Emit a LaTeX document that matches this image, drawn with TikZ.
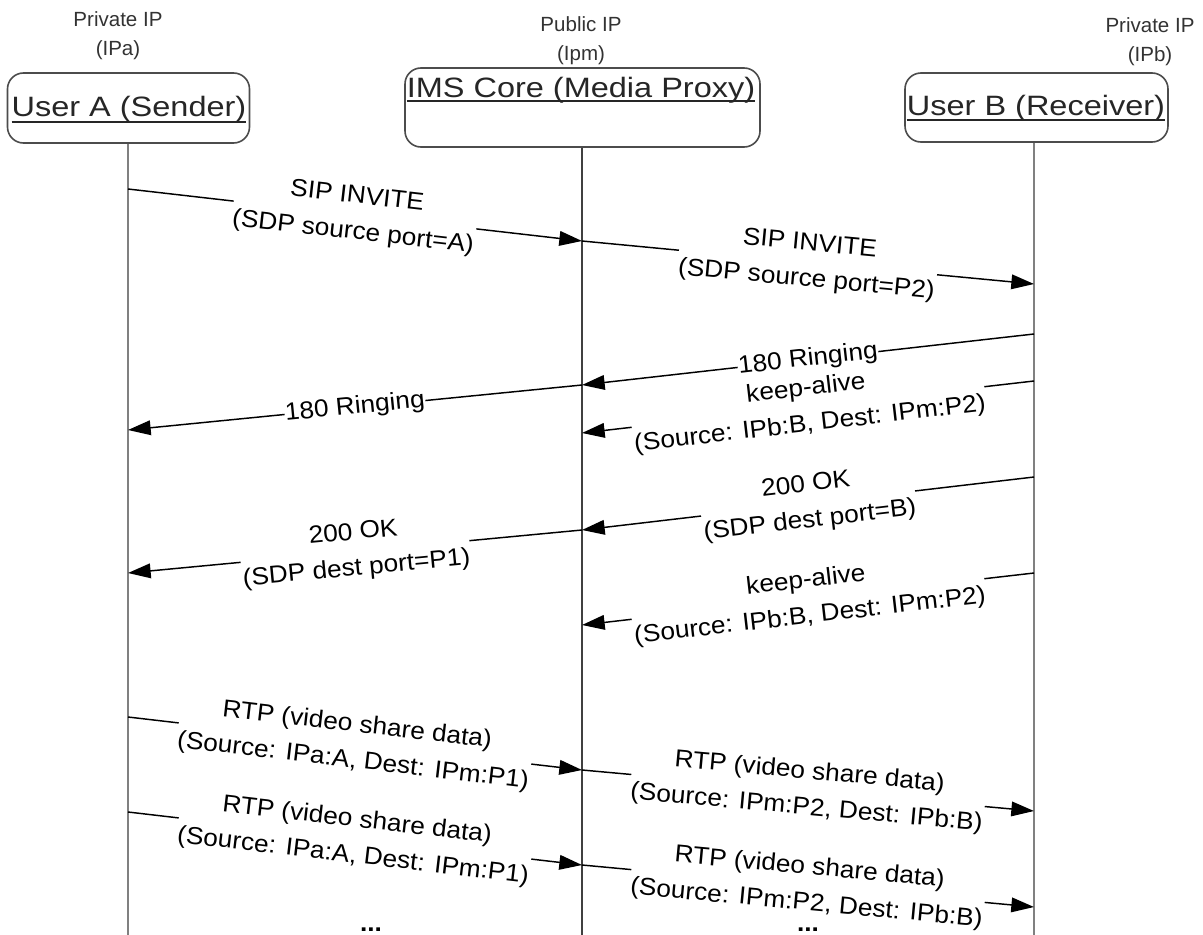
\documentclass[tikz,border=0pt]{standalone}
\usepackage{fontspec}
\setmainfont{Liberation Sans}
\newfontfamily\boxfont[FakeStretch=1.16]{Liberation Sans}
\newfontfamily\msgfont[FakeStretch=1.07]{Liberation Sans}
\usetikzlibrary{arrows.meta}
\newcommand\myul[2]{\setbox0\hbox{#2}\rlap{\rule[#1]{\wd0}{1.3pt}}\box0}
\begin{document}
\begin{tikzpicture}[x=0.75pt,y=-0.75pt,
  hdr/.style={align=center,text=black!80,font=\fontsize{15.4}{21.75}\selectfont,inner sep=0pt},
  objbox/.style={draw=black!70,line width=1.2pt,rounded corners=12pt,inner sep=0pt},
  objtext/.style={anchor=base,inner sep=0pt,font=\boxfont\fontsize{21}{25}\selectfont,text=black!85},
  life/.style={line width=1.6pt,draw=black!50},
  lifem/.style={line width=1.1pt,draw=black!75},
  msg/.style={line width=1.1pt,-{Triangle[length=17pt,width=11pt]}},
  lbl/.style={midway,sloped,fill=white,inner sep=0.5pt,align=center,font=\msgfont\fontsize{18.4}{27}\selectfont},
  dots/.style={anchor=base,inner sep=0pt,font=\msgfont\fontsize{18.4}{27}\selectfont\bfseries},
]
\fill[white] (0,0) rectangle (1203,935);
\useasboundingbox (0,0) rectangle (1203,935);

% headers
\node[hdr] (hA) at (118,35.5) {Private IP\\(IPa)};
\node[hdr] (hM) at (581,40.5) {Public IP\\(Ipm)};
\node[hdr] (hB) at (1150,42) {Private IP\\(IPb)};

% object boxes
\node[objbox,minimum width=181.5pt,minimum height=52.5pt] (A) at (128.5,108) {};
\node[objbox,minimum width=266.25pt,minimum height=59.25pt] (M) at (582.5,107.5) {};
\node[objbox,minimum width=197.25pt,minimum height=51.75pt] (B) at (1036.5,107.5) {};
\node[objtext] (tA) at (129,116) {\myul{-5.1pt}{User A (Sender)}};
\node[objtext] (tM) at (581,97) {\myul{-3.4pt}{IMS Core (Media Proxy)}};
\node[objtext] (tB) at (1036,115) {\myul{-4.4pt}{User B (Receiver)}};

% lifeline ends
\coordinate (aEnd) at (128,935);
\coordinate (mEnd) at (582,935);
\coordinate (bEnd) at (1034,935);
\draw[life] (A.south -| aEnd) -- (aEnd);
\draw[lifem] (M.south -| mEnd) -- (mEnd);
\draw[life] (B.south -| bEnd) -- (bEnd);

% message end points
\coordinate (a1) at (128,189);  \coordinate (m1) at (582,241);
\coordinate (b2) at (1034,284);
\coordinate (b3) at (1034,334); \coordinate (m3) at (582,385);
\coordinate (a4) at (128,430);
\coordinate (b5) at (1034,381); \coordinate (m5) at (582,433);
\coordinate (b6) at (1034,477); \coordinate (m6) at (582,530);
\coordinate (a7) at (128,573);
\coordinate (b8) at (1034,573); \coordinate (m8) at (582,625);
\coordinate (a9) at (128,717);  \coordinate (m9) at (582,770);
\coordinate (b10) at (1034,811);
\coordinate (a11) at (128,812); \coordinate (m11) at (582,865);
\coordinate (b12) at (1034,907);

% messages
\draw[msg] (a1) -- node[lbl] {SIP INVITE\\(SDP source port=A)} (m1);
\draw[msg] (m1) -- node[lbl] {SIP INVITE\\(SDP source port=P2)} (b2);
\draw[msg] (b3) -- node[lbl] {180 Ringing} (m3);
\draw[msg] (m3) -- node[lbl] {180 Ringing} (a4);
\draw[msg] (b5) -- node[lbl] {keep-alive\\(Source: IPb:B, Dest: IPm:P2)} (m5);
\draw[msg] (b6) -- node[lbl] {200 OK\\(SDP dest port=B)} (m6);
\draw[msg] (m6) -- node[lbl] {200 OK\\(SDP dest port=P1)} (a7);
\draw[msg] (b8) -- node[lbl] {keep-alive\\(Source: IPb:B, Dest: IPm:P2)} (m8);
\draw[msg] (a9) -- node[lbl] {RTP (video share data)\\(Source: IPa:A, Dest: IPm:P1)} (m9);
\draw[msg] (m9) -- node[lbl] {RTP (video share data)\\(Source: IPm:P2, Dest: IPb:B)} (b10);
\draw[msg] (a11) -- node[lbl] {RTP (video share data)\\(Source: IPa:A, Dest: IPm:P1)} (m11);
\draw[msg] (m11) -- node[lbl] {RTP (video share data)\\(Source: IPm:P2, Dest: IPb:B)} (b12);

\node[dots] (d1) at (371,931) {...};
\node[dots] (d2) at (808,931) {...};
\end{tikzpicture}
\end{document}
